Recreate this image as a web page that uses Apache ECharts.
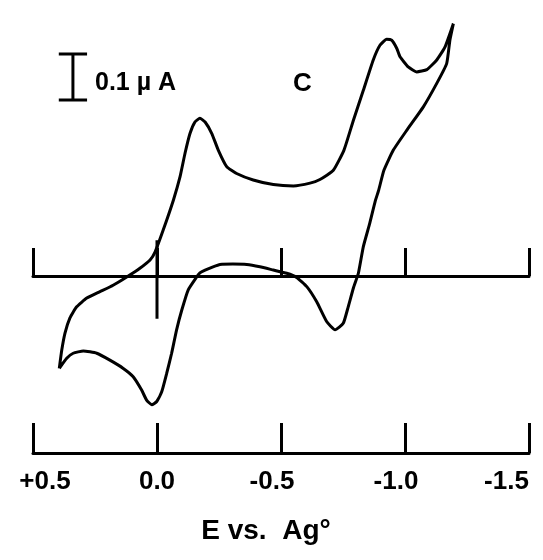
<!DOCTYPE html>
<html>
<head>
<meta charset="utf-8">
<script src="https://cdn.jsdelivr.net/npm/echarts@6/dist/echarts.min.js"></script>
<style>
html,body{margin:0;padding:0;background:#fff;}
#chart{width:543px;height:560px;}
</style>
</head>
<body>
<div id="chart"></div>
<script>
// potential (V vs. Ag) and current (uA), one full sweep: left tip -> right tip -> back
var potentialV = [0.394,0.384,0.371,0.351,0.324,0.283,0.230,0.177,0.122,0.069,0.028,0.008,
  -0.025,-0.066,-0.093,-0.113,-0.133,-0.153,-0.173,-0.194,-0.221,-0.247,-0.281,-0.321,-0.388,
  -0.469,-0.550,-0.617,-0.657,-0.711,-0.754,-0.792,-0.832,-0.872,-0.899,-0.926,-0.946,-0.967,
  -0.980,-1.013,-1.047,-1.088,-1.128,-1.161,-1.195,
  -1.181,-1.168,-1.128,-1.074,-1.007,-0.953,-0.915,-0.894,-0.880,-0.858,-0.832,-0.812,-0.792,
  -0.771,-0.751,-0.718,-0.684,-0.644,-0.604,-0.563,-0.523,-0.469,-0.415,-0.362,-0.306,-0.254,
  -0.226,-0.194,-0.173,-0.160,-0.126,-0.100,-0.079,-0.059,-0.039,-0.019,0.001,0.021,0.042,
  0.062,0.096,0.136,0.190,0.243,0.297,0.338,0.364,0.394];
var currentUA = [-0.201,-0.161,-0.124,-0.091,-0.067,-0.048,-0.034,-0.020,-0.002,0.017,0.035,0.052,
  0.100,0.165,0.216,0.267,0.310,0.335,0.343,0.335,0.310,0.274,0.238,0.223,0.209,
  0.199,0.196,0.202,0.210,0.230,0.274,0.339,0.404,0.470,0.502,0.515,0.513,0.495,
  0.477,0.455,0.444,0.449,0.470,0.498,0.549,
  0.513,0.462,0.419,0.368,0.317,0.274,0.230,0.187,0.163,0.115,0.064,0.006,-0.026,
  -0.067,-0.103,-0.117,-0.099,-0.056,-0.023,-0.003,0.006,0.013,0.020,0.025,0.026,0.025,
  0.020,0.013,0.007,-0.002,-0.030,-0.074,-0.117,-0.168,-0.212,-0.252,-0.273,-0.280,-0.270,
  -0.248,-0.219,-0.201,-0.183,-0.168,-0.163,-0.168,-0.179,-0.201];

// starting-potential marker at 0.0 V
var markerE = [0, 0];
var markerI = [0.078, -0.093];

// 0.1 uA scale bar
var barE = 0.339, barHalf = 0.057;
var barBottom = 0.383, barTop = 0.483;

var tickValues = [0.5, 0, -0.5, -1.0, -1.5];
var tickLabels = ['+0.5', '0.0', '-0.5', '-1.0', '-1.5'];

var curve = [];
for (var i = 0; i < potentialV.length; i++) {
    curve.push([potentialV[i], currentUA[i]]);
}
var marker = [];
for (var j = 0; j < markerE.length; j++) {
    marker.push([markerE[j], markerI[j]]);
}
var scaleBar = [
    [barE + barHalf, barTop], [barE - barHalf, barTop], ['-', '-'],
    [barE, barTop], [barE, barBottom], ['-', '-'],
    [barE + barHalf, barBottom], [barE - barHalf, barBottom]
];

var font = 'Liberation Sans';
var black = '#000';

var myChart = echarts.init(document.getElementById('chart'), null, {renderer: 'canvas'});
var option = {
    animation: false,
    backgroundColor: '#fff',
    title: [
        {text: '0.1 µ A', left: 90, top: 66, textStyle: {fontFamily: font, fontSize: 25, fontWeight: 'bold', color: black}},
        {text: 'C', left: 288, top: 66, textStyle: {fontFamily: font, fontSize: 26, fontWeight: 'bold', color: black}}
    ],
    grid: {left: 33, right: 14, top: 14, bottom: 107, outerBoundsMode: 'none'},
    xAxis: [{
        type: 'value', min: -1.5, max: 0.5, interval: 0.5, inverse: true, position: 'bottom',
        axisLine: {onZero: false, lineStyle: {color: black, width: 3}},
        axisTick: {inside: true, length: 30, lineStyle: {color: black, width: 3}},
        splitLine: {show: false},
        axisLabel: {
            margin: 16, showMinLabel: true, showMaxLabel: true, color: black,
            fontFamily: font, fontSize: 26, fontWeight: 'bold',
            formatter: function (v) {
                var k = tickValues.indexOf(v);
                var s = k >= 0 ? tickLabels[k] : '';
                if (v > 0) return '{pos|' + s + '}';
                if (v === 0) return '{z|' + s + '}';
                if (v <= -1.5) return '{end|' + s + '}';
                return '{neg|' + s + '}';
            },
            rich: {
                pos: {fontFamily: font, fontSize: 26, fontWeight: 'bold', color: black, padding: [0, 0, 0, 24]},
                z: {fontFamily: font, fontSize: 26, fontWeight: 'bold', color: black},
                neg: {fontFamily: font, fontSize: 26, fontWeight: 'bold', color: black, padding: [0, 18, 0, 0]},
                end: {fontFamily: font, fontSize: 26, fontWeight: 'bold', color: black, padding: [0, 45, 0, 0]}
            }
        },
        name: 'E vs.  Ag°', nameLocation: 'middle', nameGap: 64,
        nameTextStyle: {fontFamily: font, fontSize: 28, fontWeight: 'bold', color: black, padding: [0, 30, 0, 0]}
    }, {
        type: 'value', min: -1.5, max: 0.5, interval: 0.5, inverse: true, position: 'top',
        axisLine: {onZero: true, onZeroAxisIndex: 0, lineStyle: {color: black, width: 3}},
        axisTick: {inside: false, length: 28, lineStyle: {color: black, width: 3}},
        axisLabel: {show: false},
        splitLine: {show: false}
    }],
    yAxis: {
        type: 'value', min: -0.385, max: 0.57,
        axisLine: {show: false, onZero: false},
        axisTick: {show: false},
        axisLabel: {show: false},
        splitLine: {show: false}
    },
    series: [{
        name: 'cv', type: 'line', data: curve, showSymbol: false, smooth: 0.15,
        lineStyle: {color: black, width: 3}
    }, {
        name: 'marker', type: 'line', data: marker, showSymbol: false,
        lineStyle: {color: black, width: 3}
    }, {
        name: 'scale', type: 'line', data: scaleBar, showSymbol: false, connectNulls: false,
        lineStyle: {color: black, width: 3}
    }]
};
myChart.setOption(option);
window.addEventListener('resize', function () {
    myChart.resize();
});
</script>
</body>
</html>
